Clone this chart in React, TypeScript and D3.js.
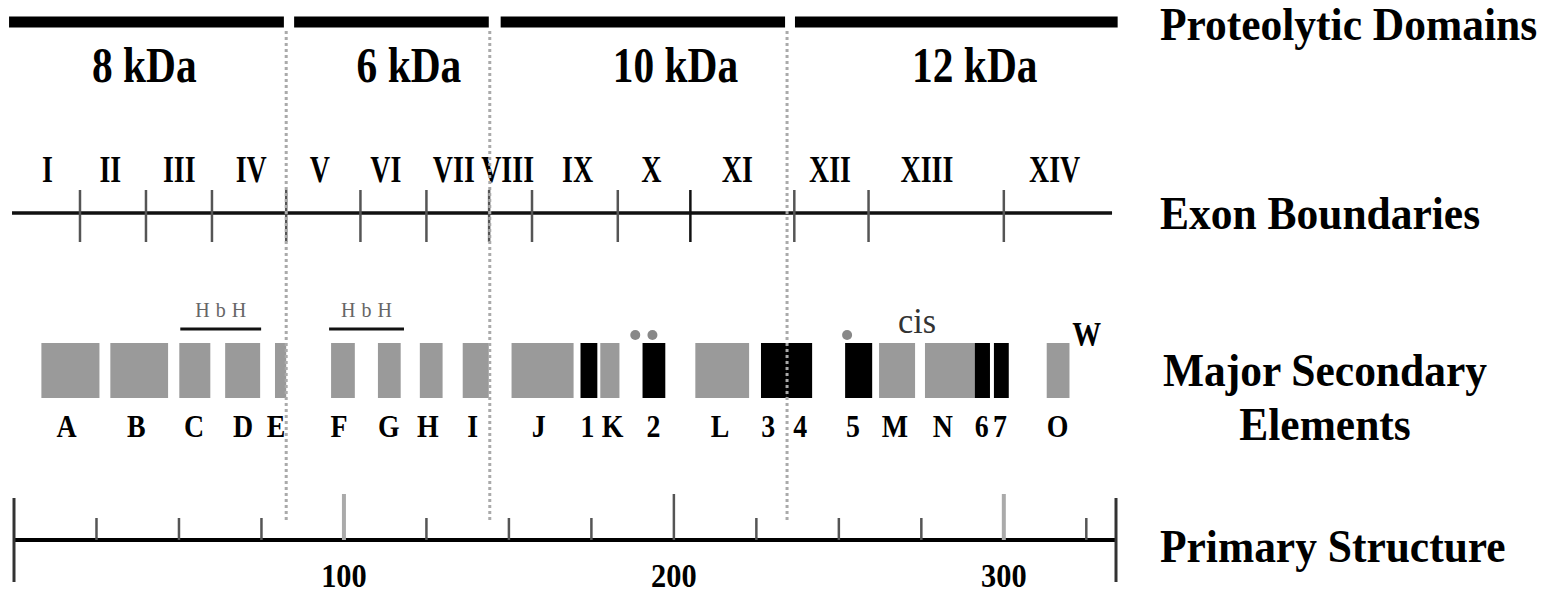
import React from "react";
import * as d3 from "d3";

// ---------- data ----------
const proteinLength = 334;

const domainNames = ["8 kDa", "6 kDa", "10 kDa", "12 kDa"];
const domainStarts = [-1.5, 84.9, 147.5, 236.7];
const domainEnds = [81.8, 143.9, 233.7, 334.5];
const domainLabelPos = [39.5, 119.7, 200.5, 291.2];
const domainBoundaries = [82.5, 144.2, 234.3];

const exonNames = ["I", "II", "III", "IV", "V", "VI", "VII", "VIII", "IX", "X", "XI", "XII", "XIII", "XIV"];
const exonLabelPos = [10.1, 29.2, 50.1, 71.9, 92.7, 112.7, 133.3, 149.6, 170.8, 193.2, 219.2, 247.3, 276.7, 315.4];
const exonBoundaries = [20, 40, 60, 82.5, 105, 125, 144, 157, 183, 205, 236.5, 259, 300];
const exonLineExtent = [-0.6, 332.8];

const elementNames = ["A", "B", "C", "D", "E", "F", "G", "H", "I", "J", "1", "K", "2", "L", "3", "4", "5", "M", "N", "6", "7", "O"];
const elementTypes = ["helix", "helix", "helix", "helix", "helix", "helix", "helix", "helix", "helix", "helix", "strand", "helix", "strand", "helix", "strand", "strand", "strand", "helix", "helix", "strand", "strand", "helix"];
const elementStarts = [8.3, 29.2, 50.1, 64.0, 79.1, 96.1, 110.3, 123.0, 136.0, 150.8, 171.7, 177.7, 190.5, 206.5, 226.4, 234.0, 251.9, 262.2, 276.1, 291.2, 297.0, 313.0];
const elementEnds = [25.9, 46.7, 59.5, 74.6, 82.5, 103.3, 117.2, 129.9, 143.9, 169.6, 176.8, 183.5, 197.4, 222.8, 234.0, 241.9, 260.1, 273.1, 291.2, 295.8, 301.5, 319.9];
const elementLabelPos = [15.9, 37.1, 54.6, 69.4, 79.4, 98.5, 113.6, 125.4, 139.0, 159.0, 173.8, 181.4, 193.8, 214.0, 228.6, 238.3, 254.3, 267.0, 281.5, 293.3, 298.8, 316.3];

const hbhStarts = [50.4, 95.5];
const hbhEnds = [74.9, 118.2];
const hbhLabel = "HbH";
const asteriskPos = [188.3, 193.5, 252.5];
const cisPos = 273.7;
const wPos = 325.1;

const residueTicks = [25, 50, 75, 100, 125, 150, 175, 200, 225, 250, 275, 300, 325];
const residueLabels = [100, 200, 300];

const rowLabels = ["Proteolytic Domains", "Exon Boundaries", "Major Secondary", "Elements", "Primary Structure"];

// ---------- drawing ----------
const FONT = "'Liberation Serif', 'DejaVu Serif', 'Times New Roman', serif";
const GRAY = "#9a9a9a";

function T(props: {
  x: number; y: number; sx: number; sy?: number; size: number; weight?: string | number;
  anchor?: string; fill?: string; ls?: number; children: React.ReactNode;
}) {
  const { x, y, sx, sy = 1, size, weight = "bold", anchor = "middle", fill = "#000", ls = 0, children } = props;
  return (
    <text
      transform={`translate(${x},${y}) scale(${sx},${sy})`}
      fontFamily={FONT}
      fontSize={size}
      fontWeight={weight}
      textAnchor={anchor}
      fill={fill}
      letterSpacing={ls}
    >
      {children}
    </text>
  );
}

export default function App() {
  const x = d3.scaleLinear().domain([0, proteinLength]).range([14, 1116]);

  const barY = 22;
  const exonY = 213;
  const boxTop = 343;
  const boxH = 55;
  const axisY = 540;

  return (
    <svg
      width={1544}
      height={594}
      viewBox="0 0 1544 594"
      style={{ position: "absolute", left: 0, top: 0, display: "block", background: "#fff" }}
    >
      <rect x={0} y={0} width={1544} height={594} fill="#fff" />

      {/* Proteolytic domain bars */}
      {domainNames.map((n, i) => (
        <line
          key={"dom" + i}
          x1={x(domainStarts[i])}
          x2={x(domainEnds[i])}
          y1={barY}
          y2={barY}
          stroke="#000"
          strokeWidth={11}
        />
      ))}
      {domainNames.map((n, i) => (
        <T key={"doml" + i} x={x(domainLabelPos[i])} y={82} sx={0.9} sy={1.08} size={46}>
          {n}
        </T>
      ))}

      {/* Exon boundaries */}
      <line x1={x(exonLineExtent[0])} x2={x(exonLineExtent[1])} y1={exonY} y2={exonY} stroke="#111" strokeWidth={3.5} />
      {exonBoundaries.map((b, i) => (
        <line key={"ex" + i} x1={x(b)} x2={x(b)} y1={190} y2={242} stroke={i === 9 ? "#111" : "#555"} strokeWidth={2.5} />
      ))}
      {exonNames.map((n, i) => (
        <T key={"exl" + i} x={x(exonLabelPos[i])} y={182} sx={0.8} sy={1.08} size={35}>
          {n}
        </T>
      ))}

      {/* Secondary elements */}
      {elementNames.map((n, i) => (
        <rect
          key={"el" + i}
          x={x(elementStarts[i])}
          y={boxTop}
          width={x(elementEnds[i]) - x(elementStarts[i])}
          height={boxH}
          fill={elementTypes[i] === "strand" ? "#000" : GRAY}
        />
      ))}
      {elementNames.map((n, i) => (
        <T key={"ell" + i} x={x(elementLabelPos[i])} y={437} sx={0.9} sy={1.05} size={31}>
          {n}
        </T>
      ))}

      {/* HbH motifs */}
      {hbhStarts.map((s, i) => (
        <g key={"hbh" + i}>
          <line x1={x(s)} x2={x(hbhEnds[i])} y1={329} y2={329} stroke="#111" strokeWidth={3} />
          <T x={(x(s) + x(hbhEnds[i])) / 2 + 3} y={317} sx={1} size={20} weight="normal" fill="#666" ls={6}>
            {hbhLabel}
          </T>
        </g>
      ))}

      {/* annotations */}
      {asteriskPos.map((p, i) => (
        <circle key={"ast" + i} cx={x(p)} cy={335} r={5} fill="#888" />
      ))}
      <T x={x(cisPos)} y={333} sx={0.95} size={36} weight="normal" fill="#333">
        cis
      </T>
      <T x={x(wPos)} y={345} sx={0.85} size={34}>
        W
      </T>

      {/* Primary structure axis */}
      <line x1={x(0)} x2={x(proteinLength)} y1={axisY} y2={axisY} stroke="#000" strokeWidth={4} />
      <line x1={x(0)} x2={x(0)} y1={498} y2={582} stroke="#333" strokeWidth={3} />
      <line x1={x(proteinLength)} x2={x(proteinLength)} y1={498} y2={582} stroke="#333" strokeWidth={3} />
      {residueTicks.map((t) => {
        const major = residueLabels.includes(t);
        const light = t === 100 || t === 300;
        return (
          <line
            key={"rt" + t}
            x1={x(t)}
            x2={x(t)}
            y1={major ? 494 : 518}
            y2={axisY}
            stroke={light ? "#aaa" : "#555"}
            strokeWidth={light ? 4 : 2.5}
          />
        );
      })}
      {residueLabels.map((t) => (
        <T key={"rl" + t} x={x(t)} y={587} sx={0.92} size={33}>
          {t}
        </T>
      ))}

      {/* dotted domain boundaries */}
      {domainBoundaries.map((b, i) => (
        <line
          key={"db" + i}
          x1={x(b)}
          x2={x(b)}
          y1={31}
          y2={522}
          stroke="#aaa"
          strokeWidth={3}
          strokeDasharray="3 3"
        />
      ))}

      {/* row labels */}
      <T x={1160} y={40} sx={0.945} size={46} anchor="start">{rowLabels[0]}</T>
      <T x={1160} y={229} sx={0.945} size={46} anchor="start">{rowLabels[1]}</T>
      <T x={1325} y={386} sx={0.945} size={46}>{rowLabels[2]}</T>
      <T x={1325} y={440} sx={0.945} size={46}>{rowLabels[3]}</T>
      <T x={1160} y={562} sx={0.945} size={46} anchor="start">{rowLabels[4]}</T>
    </svg>
  );
}
